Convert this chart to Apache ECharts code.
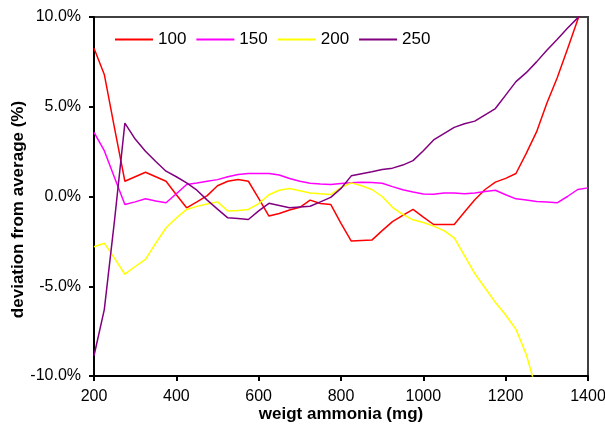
<!DOCTYPE html>
<html>
<head>
<meta charset="utf-8">
<script src="https://cdn.jsdelivr.net/npm/echarts@6/dist/echarts.min.js"></script>
<style>
  html, body { margin: 0; padding: 0; background: #fff; }
  #chart { width: 605px; height: 434px; }
</style>
</head>
<body>
<div id="chart"></div>
<script>
// Ammonia weight (mg), one sample every 25 mg
const weights = [200, 225, 250, 275, 300, 325, 350, 375, 400, 425, 450, 475, 500, 525, 550, 575,
  600, 625, 650, 675, 700, 725, 750, 775, 800, 825, 850, 875, 900, 925, 950, 975,
  1000, 1025, 1050, 1075, 1100, 1125, 1150, 1175, 1200, 1225, 1250, 1275, 1300, 1325, 1350, 1375, 1400];

// Deviation from average (%) per series
const dev100 = [8.26, 6.8, 3.8, 0.85, 1.1, 1.35, 1.1, 0.85, 0.1, -0.63, -0.3, 0.05, 0.6, 0.85, 0.95, 0.85,
  -0.1, -1.09, -0.95, -0.75, -0.6, -0.2, -0.39, -0.44, -1.5, -2.48, -2.45, -2.43, -1.9, -1.4, -1.05, -0.72,
  -1.15, -1.56, -1.56, -1.56, -0.86, -0.18, 0.39, 0.8, 1.01, 1.28, 2.4, 3.6, 5.2, 6.6, 8.2, 9.85, 11.5];
const dev150 = [3.57, 2.55, 1.05, -0.44, -0.3, -0.13, -0.25, -0.35, 0.15, 0.67, 0.75, 0.85, 0.94, 1.1, 1.22, 1.28,
  1.28, 1.28, 1.2, 1.0, 0.85, 0.74, 0.7, 0.67, 0.72, 0.76, 0.8, 0.78, 0.74, 0.55, 0.38, 0.25,
  0.14, 0.13, 0.2, 0.2, 0.15, 0.2, 0.28, 0.35, 0.1, -0.13, -0.2, -0.28, -0.31, -0.35, 0.0, 0.39, 0.48];
const dev200 = [-2.8, -2.6, -3.45, -4.33, -3.9, -3.5, -2.6, -1.74, -1.2, -0.72, -0.55, -0.42, -0.3, -0.81, -0.78, -0.72,
  -0.4, 0.1, 0.35, 0.44, 0.32, 0.2, 0.15, 0.11, 0.5, 0.76, 0.6, 0.39, 0.0, -0.6, -1.0, -1.3,
  -1.45, -1.65, -1.9, -2.3, -3.3, -4.3, -5.1, -5.9, -6.6, -7.4, -8.8, -10.8, null, null, null, null, null];
const dev250 = [-8.87, -6.3, -1.3, 4.09, 3.2, 2.52, 1.95, 1.41, 1.1, 0.76, 0.35, -0.2, -0.7, -1.19, -1.22, -1.28,
  -0.8, -0.38, -0.5, -0.63, -0.58, -0.54, -0.3, -0.05, 0.45, 1.15, 1.27, 1.38, 1.5, 1.58, 1.75, 2.0,
  2.55, 3.15, 3.5, 3.85, 4.05, 4.2, 4.55, 4.9, 5.65, 6.4, 6.9, 7.5, 8.15, 8.75, 9.37, 9.95, 10.6];

const seriesNames = ['100', '150', '200', '250'];
const seriesValues = [dev100, dev150, dev200, dev250];
const seriesColors = ['#ff0000', '#ff00ff', '#ffff00', '#800080'];

const xTicks = { min: 200, max: 1400, step: 200 };
const yTicks = { min: -10, max: 10, step: 5 };

const font = 'Liberation Sans, Arial, sans-serif';

const chart = echarts.init(document.getElementById('chart'), null, { renderer: 'canvas' });

chart.setOption({
  backgroundColor: '#ffffff',
  animation: false,
  grid: {
    left: 94, right: 17, top: 17, bottom: 58,
    containLabel: false, outerBoundsMode: 'none',
    show: true, borderColor: '#404040', borderWidth: 2, backgroundColor: 'transparent'
  },
  legend: {
    left: 110, top: 26,
    itemWidth: 38, itemHeight: 2, itemGap: 10,
    icon: 'rect',
    textStyle: { fontFamily: font, fontSize: 17, color: '#000' },
    data: seriesNames
  },
  xAxis: {
    type: 'value',
    min: xTicks.min, max: xTicks.max, interval: xTicks.step,
    name: 'weigt ammonia (mg)',
    nameLocation: 'middle', nameGap: 30, nameMoveOverlap: false,
    nameTextStyle: { fontFamily: font, fontSize: 17, fontWeight: 'bold', color: '#000' },
    axisLine: { onZero: false, lineStyle: { color: '#000', width: 2 } },
    axisTick: { show: true, length: 5, lineStyle: { color: '#000', width: 2 } },
    axisLabel: { fontFamily: font, fontSize: 16, color: '#000', margin: 13, formatter: v => String(v) },
    splitLine: { show: false }
  },
  yAxis: {
    type: 'value',
    min: yTicks.min, max: yTicks.max, interval: yTicks.step,
    name: 'deviation from average (%)',
    nameLocation: 'middle', nameGap: 67, nameRotate: 90, nameMoveOverlap: false,
    nameTextStyle: {
      fontFamily: font, fontSize: 17, fontWeight: 'bold', color: '#000',
      padding: [0, 26, 0, 0]
    },
    axisLine: { show: true, onZero: false, lineStyle: { color: '#000', width: 2 } },
    axisTick: { show: true, length: 5, lineStyle: { color: '#000', width: 2 } },
    axisLabel: {
      fontFamily: font, fontSize: 16, color: '#000', margin: 13,
      formatter: v => v.toFixed(1) + '%'
    },
    splitLine: { show: false }
  },
  series: seriesNames.map((name, i) => ({
    name,
    type: 'line',
    data: weights.map((w, j) => [w, seriesValues[i][j]]),
    showSymbol: false,
    symbol: 'none',
    clip: true,
    connectNulls: false,
    color: seriesColors[i],
    lineStyle: { color: seriesColors[i], width: 1.5 }
  }))
});
</script>
</body>
</html>
